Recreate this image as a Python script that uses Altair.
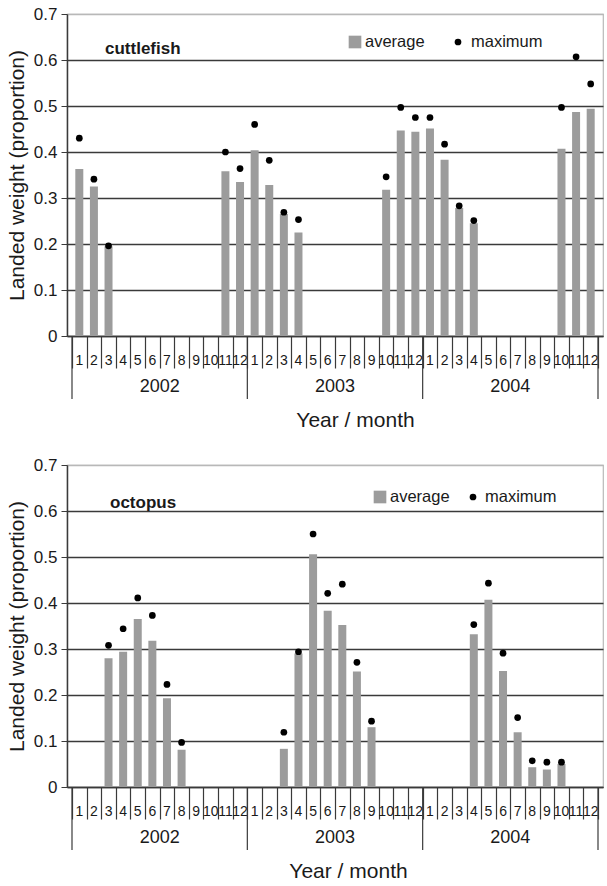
import altair as alt
import pandas as pd

years = [2002, 2003, 2004]
months = list(range(1, 13))

N = None
cuttlefish_avg = [0.363, 0.325, 0.195, N, N, N, N, N, N, N, 0.358, 0.335,
                  0.404, 0.328, 0.265, 0.225, N, N, N, N, N, 0.318, 0.447, 0.444,
                  0.451, 0.383, 0.278, 0.245, N, N, N, N, N, 0.407, 0.487, 0.494]
cuttlefish_max = [0.430, 0.341, 0.196, N, N, N, N, N, N, N, 0.400, 0.364,
                  0.460, 0.382, 0.269, 0.253, N, N, N, N, N, 0.346, 0.497, 0.475,
                  0.475, 0.417, 0.283, 0.251, N, N, N, N, N, 0.497, 0.607, 0.548]
octopus_avg = [N, N, 0.280, 0.294, 0.365, 0.318, 0.193, 0.081, N, N, N, N,
               N, N, 0.083, 0.290, 0.506, 0.383, 0.352, 0.251, 0.130, N, N, N,
               N, N, N, 0.332, 0.407, 0.252, 0.119, 0.043, 0.038, 0.050, N, N]
octopus_max = [N, N, 0.308, 0.344, 0.411, 0.373, 0.223, 0.097, N, N, N, N,
               N, N, 0.119, 0.294, 0.550, 0.421, 0.441, 0.271, 0.143, N, N, N,
               N, N, N, 0.353, 0.443, 0.291, 0.151, 0.057, 0.054, 0.054, N, N]

y_ticks = [0, 0.1, 0.2, 0.3, 0.4, 0.5, 0.6, 0.7]
legend_labels = ["average", "maximum"]
species = ["cuttlefish", "octopus"]

FONT = "Liberation Sans"
GRAY = "#9c9c9c"
DARK = "#3a3a3a"
TXT = "#1a1a1a"
W = 536
H = 322


def panel(name, avg, mx, leg_pos, name_pos, title_x):
    rows = []
    for yi, yr in enumerate(years):
        for mi, m in enumerate(months):
            k = yi * 12 + mi
            rows.append(dict(pos=k + 0.5, month=str(m), year=yr, avg=avg[k], mx=mx[k]))
    df = pd.DataFrame(rows)
    yr_df = pd.DataFrame({"pos": [i * 12 + 6 for i in range(len(years))],
                          "year": [str(y) for y in years]})
    sep_df = pd.DataFrame({"b": [i * 12 for i in range(len(years) + 1)]})
    leg_df = pd.DataFrame({"label": legend_labels})
    name_df = pd.DataFrame({"label": [name]})

    xs = alt.Scale(domain=[0, 36], nice=False, zero=False)
    ys = alt.Scale(domain=[0, 0.7], nice=False)

    x_axis = alt.Axis(values=list(range(37)), labels=False, ticks=True, tickSize=32,
                      tickColor=DARK, tickWidth=1.2, tickOpacity=1,
                      domainColor=DARK, domainWidth=1.5, grid=False,
                      title="Year / month", titleFont=FONT, titleFontSize=21,
                      titleFontWeight="normal", titleColor=TXT, titleY=84,
                      titleX=title_x, titleAlign="center", titleBaseline="middle")
    y_axis = alt.Axis(values=y_ticks, format=".1~f", title="Landed weight (proportion)",
                      titleFont=FONT, titleFontSize=21, titleFontWeight="normal",
                      titleColor=TXT, titlePadding=6, labelFont=FONT, labelFontSize=17,
                      labelColor=TXT, labelPadding=4, tickSize=6, tickColor=DARK,
                      domainColor=DARK, domainWidth=1.5,
                      gridColor={"condition": {"test": "datum.value >= 0.65", "value": "#b8b8b8"},
                                 "value": DARK},
                      gridWidth=1.5)

    def X(f):
        return alt.X(f, scale=xs, axis=x_axis)

    def Y(f):
        return alt.Y(f, scale=ys, axis=y_axis)

    bars = alt.Chart(df).transform_filter("isValid(datum.avg)").mark_bar(
        size=8, color=GRAY).encode(x=X("pos:Q"), y=Y("avg:Q"))
    dots = alt.Chart(df).transform_filter("isValid(datum.mx)").mark_circle(
        size=45, color="#000000", opacity=1).encode(x=X("pos:Q"), y=Y("mx:Q"))
    mlab = alt.Chart(df).mark_text(font=FONT, fontSize=14, color=TXT, baseline="middle").encode(
        x=X("pos:Q"), y=alt.value(H + 25), text="month:N")
    seps = alt.Chart(sep_df).mark_rule(color=DARK, strokeWidth=1.2).encode(
        x=X("b:Q"), y=alt.value(H), y2=alt.value(H + 63))
    ylab = alt.Chart(yr_df).mark_text(font=FONT, fontSize=18, color=TXT, baseline="middle").encode(
        x=X("pos:Q"), y=alt.value(H + 51), text="year:N")

    sqx, avx, dtx, mxx, ly = leg_pos
    sq = alt.Chart(leg_df).transform_filter("datum.label == 'average'").mark_square(
        size=160, color=GRAY, opacity=1).encode(x=alt.value(sqx), y=alt.value(ly))
    avt = alt.Chart(leg_df).transform_filter("datum.label == 'average'").mark_text(
        font=FONT, fontSize=16.5, color=TXT, align="left", baseline="middle").encode(
        x=alt.value(avx), y=alt.value(ly), text="label:N")
    dt = alt.Chart(leg_df).transform_filter("datum.label == 'maximum'").mark_circle(
        size=45, color="#000000", opacity=1).encode(x=alt.value(dtx), y=alt.value(ly))
    mxt = alt.Chart(leg_df).transform_filter("datum.label == 'maximum'").mark_text(
        font=FONT, fontSize=16.5, color=TXT, align="left", baseline="middle").encode(
        x=alt.value(mxx), y=alt.value(ly), text="label:N")
    nm = alt.Chart(name_df).mark_text(font=FONT, fontSize=17, fontWeight="bold", color=TXT,
                                      align="left", baseline="middle").encode(
        x=alt.value(name_pos[0]), y=alt.value(name_pos[1]), text="label:N")

    return alt.layer(bars, dots, mlab, seps, ylab, sq, avt, dt, mxt, nm).properties(
        width=W, height=H)


top = panel(species[0], cuttlefish_avg, cuttlefish_max, (288, 298, 391, 404, 28), (38, 35), 288)
bottom = panel(species[1], octopus_avg, octopus_max, (313, 323, 406, 418, 32), (43, 38), 281)

chart = alt.vconcat(top, bottom, spacing=24).properties(
    padding={"left": 5, "top": 4, "right": 0, "bottom": 0}
).configure_view(stroke="#b8b8b8", strokeWidth=1.2)

chart.save("out.html", embed_options={"renderer": "svg", "actions": False})
